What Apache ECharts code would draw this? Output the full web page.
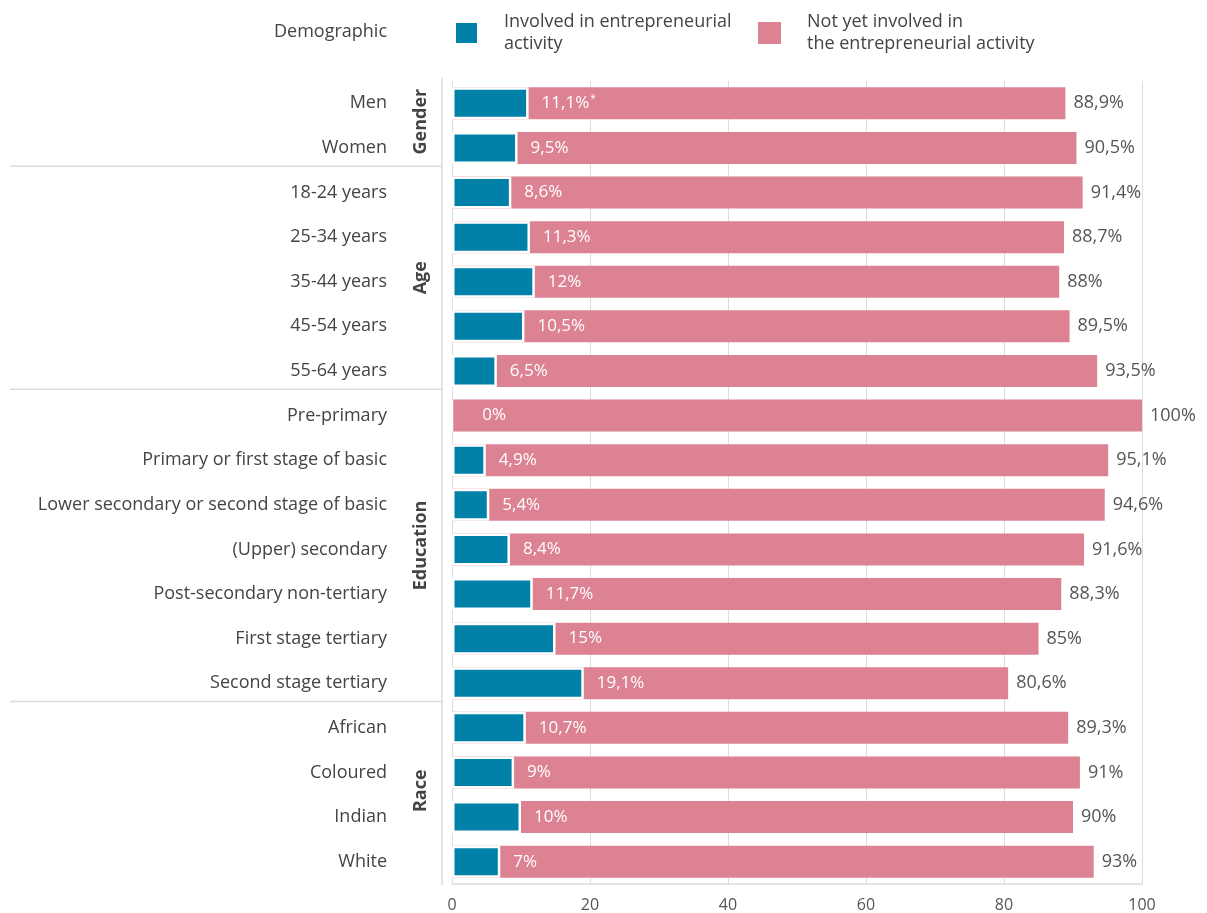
<!DOCTYPE html>
<html>
<head>
<meta charset="utf-8">
<script src="https://cdn.jsdelivr.net/npm/echarts@6/dist/echarts.min.js"></script>
<style>
  html, body { margin: 0; padding: 0; background: #fff; }
  #chart { width: 1207px; height: 913px; }
</style>
</head>
<body>
<div id="chart"></div>
<script>
// Categories, top to bottom
const categories = [
  'Men', 'Women',
  '18-24 years', '25-34 years', '35-44 years', '45-54 years', '55-64 years',
  'Pre-primary', 'Primary or first stage of basic', 'Lower secondary or second stage of basic',
  '(Upper) secondary', 'Post-secondary non-tertiary', 'First stage tertiary', 'Second stage tertiary',
  'African', 'Coloured', 'Indian', 'White'
];
// Share involved in entrepreneurial activity (%)
const involved = [11.1, 9.5, 8.6, 11.3, 12, 10.5, 6.5, 0, 4.9, 5.4, 8.4, 11.7, 15, 19.1, 10.7, 9, 10, 7];
// Share not yet involved (%)
const notYet = [88.9, 90.5, 91.4, 88.7, 88, 89.5, 93.5, 100, 95.1, 94.6, 91.6, 88.3, 85, 80.6, 89.3, 91, 90, 93];
// Footnote marks attached to the involved share
const marks = ['*', '', '', '', '', '', '', '', '', '', '', '', '', '', '', '', '', ''];
// Demographic groups and how many rows each spans
const groupNames = ['Gender', 'Age', 'Education', 'Race'];
const groupSizes = [2, 5, 7, 4];
// Axis ticks
const xTicks = [0, 20, 40, 60, 80, 100];

const BLUE = '#0180a8';
const PINK = '#dc8292';
const TEXT = '#444';
const FONT = '"Open Sans", Lato, sans-serif';

const fmt = v => String(v).replace('.', ',') + '%';

const chart = echarts.init(document.getElementById('chart'));

const legendText = { fontSize: 18, color: TEXT, lineHeight: 22, fontFamily: FONT, padding: [0, 0, 0, 21] };

const option = {
  animation: false,
  backgroundColor: '#fff',
  textStyle: { fontFamily: FONT },
  grid: { left: 452, right: 65, top: 81, bottom: 29, containLabel: false },
  legend: [
    {
      data: ['Involved in entrepreneurial\nactivity'],
      left: 449, top: 6,
      itemWidth: 23, itemHeight: 22,
      icon: 'rect',
      selectedMode: false,
      textStyle: legendText
    },
    {
      data: ['Not yet involved in\nthe entrepreneurial activity'],
      left: 753, top: 6,
      itemWidth: 23, itemHeight: 22,
      icon: 'rect',
      selectedMode: false,
      textStyle: legendText
    }
  ],
  xAxis: {
    type: 'value',
    min: xTicks[0], max: xTicks[xTicks.length - 1], interval: xTicks[1] - xTicks[0],
    axisLine: { show: true, lineStyle: { color: '#dcdcdc', width: 1.5 } },
    axisTick: { show: false },
    splitLine: { show: true, lineStyle: { color: '#dcdcdc', width: 1 } },
    axisLabel: { color: '#555', fontSize: 16, margin: 13, fontFamily: FONT }
  },
  yAxis: {
    type: 'category',
    data: categories,
    inverse: true,
    axisLine: { show: false },
    axisTick: { show: false },
    axisLabel: { color: TEXT, fontSize: 18, margin: 65, fontFamily: FONT }
  },
  series: [
    {
      name: 'Not yet involved in\nthe entrepreneurial activity',
      type: 'bar',
      barWidth: 32,
      barGap: '-100%',
      itemStyle: { color: PINK },
      data: notYet,
      label: {
        show: true, position: 'right', distance: 8,
        color: '#555', fontSize: 18, fontFamily: FONT,
        formatter: p => fmt(p.value)
      },
      z: 2
    },
    {
      name: 'Involved in entrepreneurial\nactivity',
      type: 'bar',
      barWidth: 32,
      barGap: '-100%',
      itemStyle: { color: BLUE, borderColor: '#fff', borderWidth: 2.5 },
      data: involved.map(v => ({
        value: v,
        label: { distance: v === 0 ? 29 : 13 }
      })),
      label: {
        show: true, position: 'right',
        color: '#fff', fontSize: 17, fontFamily: FONT,
        formatter: p => '{v|' + fmt(p.value) + '}' + (marks[p.dataIndex] ? '{s|' + marks[p.dataIndex] + '}' : ''),
        rich: {
          v: { color: '#fff', fontSize: 17, fontFamily: FONT },
          s: { color: '#fff', fontSize: 10, fontFamily: FONT, verticalAlign: 'top', padding: [0, 0, 8, 1] }
        }
      },
      z: 3
    }
  ]
};

chart.setOption(option);

// Left-panel dividers and rotated group titles, placed from the category axis
function drawPanel() {
  const yAt = i => chart.convertToPixel({ yAxisIndex: 0 }, i);
  const plotTop = 78, plotBottom = 885, divX = 442;
  const shift = -4;
  const g = [];

  g.push({
    type: 'line', silent: true,
    shape: { x1: divX, y1: plotTop, x2: divX, y2: plotBottom },
    style: { stroke: '#dcdcdc', lineWidth: 1.5 }
  });

  g.push({
    type: 'text', silent: true,
    x: 387, y: 32,
    style: { text: 'Demographic', fill: TEXT, font: '18px ' + FONT, align: 'right', verticalAlign: 'middle' }
  });

  let start = 0;
  groupNames.forEach((name, gi) => {
    const end = start + groupSizes[gi] - 1;
    const mid = (yAt(start) + yAt(end)) / 2 + shift;
    g.push({
      type: 'text', silent: true,
      x: 421, y: mid, rotation: Math.PI / 2,
      style: { text: name, fill: TEXT, font: 'bold 18px ' + FONT, align: 'center', verticalAlign: 'middle' }
    });
    if (gi < groupNames.length - 1) {
      const by = (yAt(end) + yAt(end + 1)) / 2 + shift;
      g.push({
        type: 'line', silent: true,
        shape: { x1: 10, y1: by, x2: divX, y2: by },
        style: { stroke: '#dcdcdc', lineWidth: 1.5 }
      });
    }
    start = end + 1;
  });

  chart.setOption({ graphic: g });
}
drawPanel();
</script>
</body>
</html>
